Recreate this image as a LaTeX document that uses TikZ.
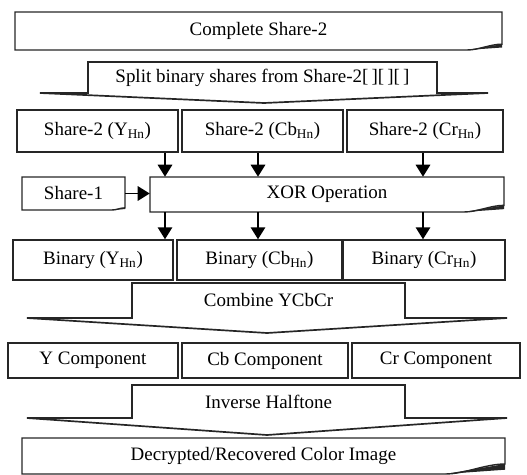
\documentclass[tikz,border=0pt]{standalone}
\usepackage{fontspec}
\setmainfont{Liberation Serif}
\usetikzlibrary{arrows.meta}
\def\foldbox[#1](#2,#3)(#4,#5){\draw[boxline] (#2,#3) -- (#4,#3) -- ({#4},{#5-#1/6}) .. controls ({#4-#1/3},{#5-#1/6}) and ({#4-2*#1/3},{#5}) .. ({#4-#1},{#5}) -- (#2,#5) -- cycle;
  \fill[black!85] ({#4},{#5-#1/6}) -- ({#4-#1},{#5}) -- ({#4},{#5-#1/14}) -- cycle;}
\def\chevron(#1,#2,#3)(#4,#5,#6,#7){\draw[boxline, line width=1.2pt] (#1,#6) -- (#1,#3) -- (#2,#3) -- (#2,#6) -- (#5,#6) -- ({(#4+#5)/2},{#7}) -- (#4,#6) -- cycle;}

\begin{document}
\begin{tikzpicture}[x=0.25mm, y=-0.25mm,
	lbl/.style={font=\fontsize{13.5}{16}\selectfont, inner sep=0pt},
	boxline/.style={draw=black!85, line width=1pt},
	box/.style 2 args={lbl, boxline, minimum width=#1, minimum height=#2},
	arr/.style={line width=1.4pt, -{Triangle[length=3mm, width=3.6mm]}}]
			%%%%% START %%%%%
			\useasboundingbox (0,0) rectangle (527,475);
			
			\foldbox[35](15,12)(502,50)
			\node[lbl] (cs2) at (258.5,31) {Complete Share-2};
			
			\chevron(88,437,62)(40,488,93,103)
			\node[lbl] (split) at (262.5,77.5) {Split binary shares from Share-2[\,][\,][\,]};
			
			\node[box={40.25mm}{10.5mm}] (s2y) at (97.5,131) {Share-2 (Y\textsubscript{Hn})};
			\node[box={40.25mm}{10.5mm}] (s2cb) at (262.5,131) {Share-2 (Cb\textsubscript{Hn})};
			\node[box={39mm}{10.5mm}] (s2cr) at (425,131) {Share-2 (Cr\textsubscript{Hn})};
			
			\coordinate (c1) at (165,0);
			\coordinate (c2) at (258,0);
			\coordinate (c3) at (423,0);
			
			\foldbox[13](22,177)(125,210)
			\node[lbl, minimum width=25.75mm, minimum height=8.25mm] (sh1) at (73.5,193.5) {Share-1};
			\foldbox[40](150,177)(504,212)
			\node[lbl, minimum width=88.5mm, minimum height=8.75mm] (xor) at (327,194.5) {XOR Operation};
			
			\node[box={40mm}{10mm}] (biny) at (93,260) {Binary (Y\textsubscript{Hn})};
			\node[box={41.25mm}{10mm}] (bincb) at (259.5,260) {Binary (Cb\textsubscript{Hn})};
			\node[box={40.5mm}{10mm}] (bincr) at (424,260) {Binary (Cr\textsubscript{Hn})};
			
			\foreach \c in {c1,c2,c3} \draw[arr] (s2y.south -| \c) -- (xor.north -| \c);
			\draw[arr] (sh1.east) -- (sh1.east -| xor.west);
			\foreach \c in {c1,c2,c3} \draw[arr] (xor.south -| \c) -- (biny.north -| \c);
			
			\chevron(132,405,283)(27,507,318,333)
			\node[lbl] (comb) at (268.5,300.5) {Combine YCbCr};
			
			\node[box={42.5mm}{8.75mm}] (ycomp) at (93,360.5) {Y Component};
			\node[box={41.5mm}{8.75mm}] (cbcomp) at (265,360.5) {Cb Component};
			\node[box={42mm}{8.75mm}] (crcomp) at (436,360.5) {Cr Component};
			
			\chevron(132,405,385)(27,507,418,435)
			\node[lbl] (inv) at (268.5,401.5) {Inverse Halftone};
			
			\foldbox[60](22,438)(505,474)
			\node[lbl] (rec) at (263.5,456) {Decrypted/Recovered Color Image};
			%%%%% END %%%%%
\end{tikzpicture}
\end{document}
